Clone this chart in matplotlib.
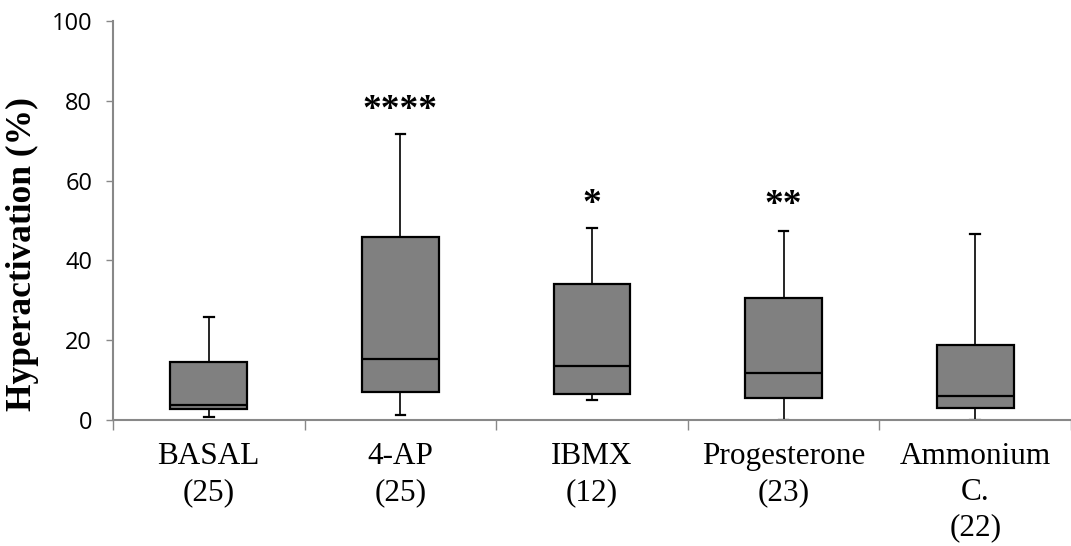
import matplotlib
matplotlib.use("Agg")
import matplotlib.pyplot as plt

# values (percent)
groups = ["BASAL\n(25)", "4-AP\n(25)", "IBMX\n(12)", "Progesterone\n(23)", "Ammonium\nC.\n(22)"]
whisker_low = [0.8, 1.3, 4.9, 0.0, 0.0]
q1 = [2.8, 6.9, 6.5, 5.4, 2.9]
median = [3.8, 15.2, 13.6, 11.8, 6.1]
q3 = [14.5, 45.8, 34.0, 30.5, 18.8]
whisker_high = [25.9, 71.7, 48.1, 47.3, 46.7]
stars = ["", "****", "*", "**", ""]
star_y = [0, 77.6, 54.1, 53.7, 0]

stats = []
for i in range(len(groups)):
    stats.append({"whislo": whisker_low[i], "q1": q1[i], "med": median[i],
                  "q3": q3[i], "whishi": whisker_high[i], "fliers": []})

fig = plt.figure(figsize=(10.71, 5.46), dpi=100)
ax = fig.add_axes([0.1055, 0.2308, 0.8945, 0.7307])

positions = list(range(len(groups)))
ax.bxp(stats, positions=positions, widths=0.4, capwidths=0.05, patch_artist=True,
       showfliers=False,
       boxprops=dict(facecolor="#808080", edgecolor="black", linewidth=1.6),
       medianprops=dict(color="black", linewidth=1.6),
       whiskerprops=dict(color="black", linewidth=1.2),
       capprops=dict(color="black", linewidth=1.6))

for x, s, y in zip(positions, stars, star_y):
    if s:
        ax.text(x, y, s, ha="center", va="center", fontsize=27, fontweight="bold",
                family="Liberation Serif")

ax.set_xlim(-0.5, 4.5)
ax.set_ylim(0, 100)
ax.set_yticks([0, 20, 40, 60, 80, 100])
ax.tick_params(axis="y", direction="out", length=5, width=1, color="#888888",
               pad=10, labelsize=17)
for lab in ax.get_yticklabels():
    lab.set_family("Open Sans")

ax.set_xticks([-0.5, 0.5, 1.5, 2.5, 3.5, 4.5])
ax.set_xticklabels([])
ax.tick_params(axis="x", which="major", direction="out", length=7, width=1, color="#888888")
ax.set_xticks(positions, minor=True)
ax.set_xticklabels(groups, minor=True, family="Liberation Serif", fontsize=22.5,
                   va="top", linespacing=1.3)
ax.tick_params(axis="x", which="minor", length=0, pad=16)

for side in ["top", "right"]:
    ax.spines[side].set_visible(False)
for side in ["left", "bottom"]:
    ax.spines[side].set_color("#888888")
    ax.spines[side].set_linewidth(1.5)

ax.set_ylabel("Hyperactivation (%)", family="Liberation Serif", fontweight="bold",
              fontsize=25.5)
ax.yaxis.set_label_coords(-0.077, 0.415)

fig.savefig("out.png", dpi=100)
